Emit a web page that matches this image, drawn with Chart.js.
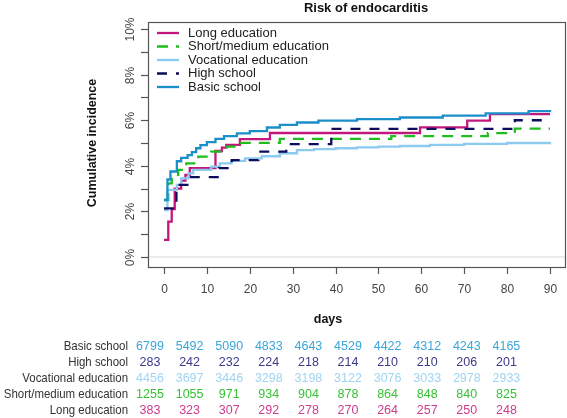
<!DOCTYPE html>
<html>
<head>
<meta charset="utf-8">
<script src="https://cdn.jsdelivr.net/npm/chart.js@4.4.0/dist/chart.umd.min.js"></script>
<style>
  body { margin: 0; background: #fff; }
  canvas { display: block; }
</style>
</head>
<body>
<canvas id="chart" width="567" height="418"></canvas>
<script>
const groups = ["Long education", "Short/medium education", "Vocational education", "High school", "Basic school"];
const groupColors = ["#c2187e", "#1dbe1d", "#8ccaef", "#0d0d5f", "#1b8fc9"];
const tableColors = ["#cc3c8e", "#36c336", "#9fd4f2", "#3b3b8a", "#3aa6da"];

// step curves: day where the step happens, cumulative incidence (%) after it
const longDays = [0, 1, 1.8, 2.5, 4, 5, 6, 12, 13.5, 14.5, 17.7, 24.7, 59.7, 70.7, 76, 90];
const longPct = [0.75, 1.55, 2.1, 3.0, 3.35, 3.6, 3.9, 4.65, 4.8, 4.92, 5.17, 5.44, 5.69, 5.98, 6.27, 6.27];

const shortDays = [0, 1, 1.8, 3.3, 5.2, 8, 11, 14.6, 18, 27, 53, 75.5, 81.8, 90];
const shortPct = [2.5, 3.23, 3.6, 3.82, 4.11, 4.4, 4.62, 4.84, 5.01, 5.18, 5.3, 5.43, 5.63, 5.63];

const vocDays = [0, 0.8, 3, 4, 5.7, 6.8, 11, 13, 15.7, 18.9, 22.8, 27, 31, 35, 40, 45, 50, 55, 62, 70, 80, 90];
const vocPct = [2.06, 2.94, 3.16, 3.45, 3.67, 3.82, 3.96, 4.11, 4.22, 4.33, 4.42, 4.55, 4.69, 4.73, 4.77, 4.81, 4.84, 4.87, 4.92, 4.96, 5.0, 5.04];

const highDays = [0, 2.9, 6, 12.8, 15.8, 22, 28.5, 39, 81.8, 90];
const highPct = [2.13, 3.16, 3.5, 3.9, 4.25, 4.62, 4.95, 5.62, 6.0, 6.0];

const basicDays = [0, 0.8, 1.5, 3, 4, 5.5, 6.5, 7.5, 8.5, 10, 12, 14, 17, 20, 24, 27, 31, 36, 45, 55, 65, 75, 85, 90];
const basicPct = [2.5, 3.4, 3.75, 4.2, 4.35, 4.47, 4.6, 4.77, 4.91, 5.04, 5.18, 5.3, 5.42, 5.52, 5.68, 5.8, 5.9, 5.98, 6.05, 6.12, 6.2, 6.3, 6.4, 6.45];

const xTicks = [0, 10, 20, 30, 40, 50, 60, 70, 80, 90];
const yTicks = [0, 1, 2, 3, 4, 5, 6, 7, 8, 9, 10];
const yLabels = ["0%", "", "2%", "", "4%", "", "6%", "", "8%", "", "10%"];

// numbers at risk, rows in the order shown under the plot
const tableRows = ["Basic school", "High school", "Vocational education", "Short/medium education", "Long education"];
const basicRisk = [6799, 5492, 5090, 4833, 4643, 4529, 4422, 4312, 4243, 4165];
const highRisk = [283, 242, 232, 224, 218, 214, 210, 210, 206, 201];
const vocRisk = [4456, 3697, 3446, 3298, 3198, 3122, 3076, 3033, 2978, 2933];
const shortRisk = [1255, 1055, 971, 934, 904, 878, 864, 848, 840, 825];
const longRisk = [383, 323, 307, 292, 278, 270, 264, 257, 250, 248];

const FONT = "'Liberation Sans', Arial, sans-serif";

function pts(days, pct) {
    return days.map((d, i) => ({ x: d, y: pct[i] }));
}

const seriesDays = [longDays, shortDays, vocDays, highDays, basicDays];
const seriesPct = [longPct, shortPct, vocPct, highPct, basicPct];
const dashes = [[], [11, 8], [], [10, 9], []];

const datasets = groups.map((g, i) => ({
    label: g,
    data: pts(seriesDays[i], seriesPct[i]),
    borderColor: groupColors[i],
    borderWidth: 2.3,
    borderDash: dashes[i],
    stepped: true,
    pointRadius: 0,
    fill: false
}));
// draw order like the original: basic school last on top
datasets.reverse();
datasets.forEach((d, i) => { d.order = i; });

const decorations = {
    id: "decorations",
    beforeDatasetsDraw(chart) {
        const { ctx, chartArea: a, scales } = chart;
        const y0 = scales.y.getPixelForValue(0);
        ctx.save();
        ctx.strokeStyle = "#e4e4e8";
        ctx.lineWidth = 1.5;
        ctx.beginPath();
        ctx.moveTo(a.left, y0);
        ctx.lineTo(a.right, y0);
        ctx.stroke();
        ctx.restore();
    },
    afterDraw(chart) {
        const { ctx, chartArea: a, scales } = chart;
        const xs = scales.x, ys = scales.y;
        ctx.save();

        // box
        ctx.strokeStyle = "#555";
        ctx.lineWidth = 1.2;
        ctx.strokeRect(a.left + 0.5, a.top + 0.5, a.right - a.left - 1, a.bottom - a.top);

        // y axis ticks and rotated labels
        ctx.fillStyle = "#444";
        ctx.font = "12px " + FONT;
        yTicks.forEach((v, i) => {
            const py = Math.round(ys.getPixelForValue(v)) + 0.5;
            ctx.beginPath();
            ctx.moveTo(a.left - 7, py);
            ctx.lineTo(a.left, py);
            ctx.stroke();
            if (yLabels[i]) {
                ctx.save();
                ctx.translate(a.left - 11, py);
                ctx.rotate(-Math.PI / 2);
                ctx.textAlign = "center";
                ctx.textBaseline = "bottom";
                ctx.fillText(yLabels[i], 0, 0);
                ctx.restore();
            }
        });

        // x axis ticks and labels
        ctx.textAlign = "center";
        ctx.textBaseline = "middle";
        xTicks.forEach(v => {
            const px = Math.round(xs.getPixelForValue(v)) + 0.5;
            ctx.beginPath();
            ctx.moveTo(px, a.bottom);
            ctx.lineTo(px, a.bottom + 7);
            ctx.stroke();
            ctx.fillText(String(v), px, a.bottom + 23);
        });

        // titles
        ctx.fillStyle = "#111";
        ctx.font = "bold 13px " + FONT;
        ctx.fillText("Risk of endocarditis", 366, 8);
        ctx.font = "bold 12.5px " + FONT;
        ctx.fillText("days", 328, 320);
        ctx.save();
        ctx.translate(93, 143);
        ctx.rotate(-Math.PI / 2);
        ctx.fillText("Cumulative incidence", 0, 0);
        ctx.restore();

        // legend
        ctx.font = "13px " + FONT;
        ctx.textAlign = "left";
        groups.forEach((g, i) => {
            const ly = 33 + i * 13.5;
            ctx.strokeStyle = groupColors[i];
            ctx.lineWidth = 2.3;
            ctx.setLineDash(dashes[i]);
            ctx.beginPath();
            ctx.moveTo(157, ly);
            ctx.lineTo(179, ly);
            ctx.stroke();
            ctx.setLineDash([]);
            ctx.fillStyle = "#222";
            ctx.fillText(g, 188, ly);
        });

        // numbers at risk
        const riskRows = [basicRisk, highRisk, vocRisk, shortRisk, longRisk];
        const rowColors = [tableColors[4], tableColors[3], tableColors[2], tableColors[1], tableColors[0]];
        tableRows.forEach((name, r) => {
            const ty = 347 + r * 15.8;
            ctx.font = "12.2px " + FONT;
            ctx.fillStyle = "#333";
            ctx.textAlign = "right";
            ctx.fillText(name, 128, ty, Math.min(ctx.measureText(name).width * 0.94, 126));
            ctx.font = "12.5px " + FONT;
            ctx.fillStyle = rowColors[r];
            ctx.textAlign = "center";
            riskRows[r].forEach((n, c) => {
                ctx.fillText(String(n), 150 + c * 39.6, ty);
            });
        });
        ctx.restore();
    }
};

new Chart(document.getElementById("chart"), {
    type: "line",
    data: { datasets: datasets },
    options: {
        responsive: false,
        devicePixelRatio: 1,
        animation: false,
        layout: { padding: { left: 148, top: 22, right: 1, bottom: 151 } },
        plugins: { legend: { display: false }, tooltip: { enabled: false } },
        scales: {
            x: { type: "linear", min: -3.73, max: 93.73, display: false },
            y: { type: "linear", min: -0.44, max: 10.31, display: false }
        }
    },
    plugins: [decorations]
});
</script>
</body>
</html>
